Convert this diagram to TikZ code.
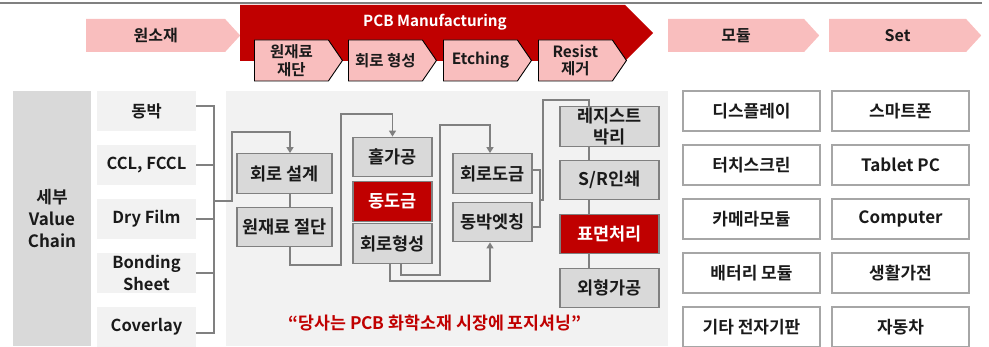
\documentclass[tikz,border=0pt]{standalone}
\usepackage{fontspec}
\setmainfont{Noto Sans CJK KR}[BoldFont={Noto Sans CJK KR Bold}]
\usetikzlibrary{shapes.symbols, arrows.meta}

\definecolor{pcbred}{HTML}{C00000}
\definecolor{chevpink}{HTML}{F9BEBE}
\definecolor{boxgray}{HTML}{D9D9D9}
\definecolor{panelgray}{HTML}{F2F2F2}
\definecolor{linegray}{HTML}{808080}
\definecolor{txt}{HTML}{1A1A1A}

\tikzset{
    stage/.style={signal, signal to=east, signal pointer angle=95, fill=chevpink,
        minimum height=33, inner sep=0pt, anchor=west, font=\fontsize{16}{18}\selectfont\bfseries},
    substage/.style={signal, signal to=east, signal pointer angle=111, fill=chevpink,
        draw=black, line width=0.9, minimum width=88, minimum height=41, inner sep=0pt,
        anchor=west, align=center, font=\fontsize{15.5}{17.5}\selectfont\bfseries},
    rawbox/.style={fill=panelgray, minimum width=99, minimum height=40, align=center,
        font=\fontsize{16.5}{22}\selectfont\bfseries},
    procbox/.style={fill=boxgray, draw=linegray, line width=1.3, minimum height=39.5,
        align=center, font=\fontsize{17.5}{21}\selectfont\bfseries},
    hotbox/.style={procbox, fill=pcbred, text=white},
    outbox/.style={fill=white, draw=linegray!70, line width=1.3, minimum width=137,
        minimum height=40, font=\fontsize{17}{20}\selectfont\bfseries},
    link/.style={linegray, line width=1.3},
    arrowed/.style={-{Triangle[width=7pt, length=6pt]}}
}

\begin{document}
\begin{tikzpicture}[x=1pt, y=-1pt,
    every node/.style={text=txt, inner sep=0pt}]
    \useasboundingbox (0,0) rectangle (989,347);

    % top rule
    \draw[linegray, line width=2] (0,3) -- (982,3);

    % value chain header
    \node[stage, minimum width=154] (raw) at (86,35.5) {원소재};
    \node[signal, signal to=east, signal pointer angle=90, fill=pcbred, anchor=west,
        minimum width=413, minimum height=56] (pcb) at (240,33) {};
    \node[text=white, font=\fontsize{15.2}{17}\selectfont\bfseries] (pcbtitle) at (435,22) {PCB Manufacturing};
    \node[substage] (cutting) at (254,60.5) {원재료\\재단};
    \node[substage] (forming) at (348,60.5) {회로 형성};
    \node[substage] (etching) at (443,60.5) {Etching};
    \node[substage] (resist) at (538,60.5) {Resist\\제거};
    \node[stage, minimum width=151] (module) at (668,35.5) {모듈};
    \node[stage, minimum width=152] (set) at (829,35.5) {Set};

    % raw materials
    \node[fill=boxgray, minimum width=78, minimum height=255, align=center,
        font=\fontsize{17}{22}\selectfont\bfseries] (chain) at (52,218.5) {세부\\Value\\Chain};
    \foreach \name/\label [count=\i] in {foil/동박, ccl/{CCL, FCCL}, film/Dry Film,
        bond/{Bonding\\Sheet}, cover/Coverlay} {
        \node[rawbox] (\name) at (146.5,{57+54*\i}) {\label};
    }
    \draw[link] ([yshift=5]foil.east) -| (214,333) -- ([yshift=-6]cover.east);
    \foreach \name in {ccl, film, bond} {
        \draw[link] (\name.east) -- ++(18,0);
    }

    % manufacturing panel
    \fill[panelgray] (226,91) rectangle (668,346);
    \node[procbox, minimum width=95] (design) at (284.5,173.5) {회로 설계};
    \node[procbox, minimum width=95] (cut) at (284.5,227) {원재료 절단};
    \node[procbox, minimum width=79] (hole) at (392.5,157) {홀가공};
    \node[hotbox, minimum width=79] (plate) at (392.5,201.5) {동도금};
    \node[procbox, minimum width=79] (form) at (392.5,243.5) {회로형성};
    \node[procbox, minimum width=79] (cplate) at (492.5,173.5) {회로도금};
    \node[procbox, minimum width=79] (etch) at (492.5,222) {동박엣칭};
    \node[procbox, minimum width=99] (strip) at (609.5,126.5) {레지스트\\박리};
    \node[procbox, minimum width=99] (srprint) at (609.5,180) {S/R인쇄};
    \node[hotbox, minimum width=99] (surface) at (609.5,234) {표면처리};
    \node[procbox, minimum width=99] (outline) at (609.5,288) {외형가공};

    % flow
    \coordinate (merge) at (214,201);
    \draw[link, arrowed] (merge) -- (232,201) |- (290,132) -- ([xshift=5.5]design.north);
    \draw[link] ([xshift=5.5]design.south) -- ([xshift=5.5]cut.north);
    \draw[link, arrowed] ([xshift=5.5]cut.south) |- (341,265) -- (341,114) -| (hole.north);
    \draw[link, arrowed] ([xshift=-2.5]form.south) |- (490,281) -- ([xshift=-2.5]etch.south);
    \draw[link, arrowed] ([xshift=8.5]form.south) |- (440,275) |- (490,125) -- ([xshift=-2.5]cplate.north);
    \draw[link] ([yshift=3.5]cplate.east) -| (540,227) -- ([yshift=-5]etch.east);
    \draw[link] (540,200) -- (543,200) |- (589,100) -- ([xshift=-20.5]strip.north);
    \foreach \a/\b in {strip/srprint, srprint/surface, surface/outline} {
        \draw[link] ([xshift=-20.5]\a.south) -- ([xshift=-20.5]\b.north);
    }

    \node[text=pcbred, font=\fontsize{17.3}{20}\selectfont\bfseries] (slogan) at (435,323)
        {“당사는 PCB 화학소재 시장에 포지셔닝”};

    % modules and sets
    \foreach \m/\s [count=\i] in {디스플레이/스마트폰, 터치스크린/Tablet PC, 카메라모듈/Computer,
        배터리 모듈/생활가전, 기타 전자기판/자동차} {
        \node[outbox] (mod\i) at (751.5,{57+54*\i}) {\m};
        \node[outbox] (set\i) at (900.5,{57+54*\i}) {\s};
    }
\end{tikzpicture}
\end{document}
